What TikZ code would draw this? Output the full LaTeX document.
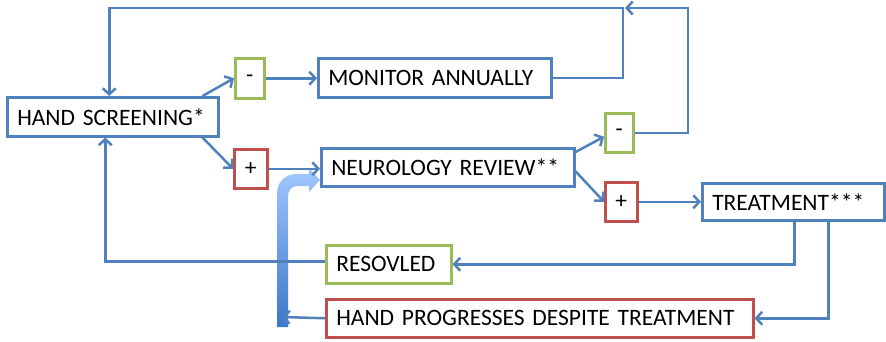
\documentclass[tikz,border=0pt]{standalone}
\usepackage{fontspec}
\setmainfont{Carlito}
\usetikzlibrary{arrows.meta,calc}
\definecolor{obl}{HTML}{4F81BD}
\definecolor{ogr}{HTML}{9BBB59}
\definecolor{ord}{HTML}{C0504D}
\definecolor{shtop}{HTML}{A2C7FF}
\definecolor{shbot}{HTML}{3A78C9}
\tikzset{
  bbox/.style={draw=obl, line width=2.5pt, fill=white, anchor=north west, inner xsep=10pt, inner ysep=0pt, align=left, font=\fontsize{23.5}{28}\selectfont},
  gbox/.style={bbox, draw=ogr},
  rbox/.style={bbox, draw=ord},
  sgn/.style={anchor=north west, line width=2.5pt, fill=white, inner sep=0pt, align=center, font=\fontsize{23.5}{28}\selectfont},
  conn/.style={draw=obl, line width=2.5pt, -{Straight Barb[length=6pt,width=13pt,line width=2.5pt]}},
}
\begin{document}
\begin{tikzpicture}[x=1pt,y=-1pt]
\useasboundingbox (0,0) rectangle (886,341);

% big bent block arrow
\path[top color=shtop, bottom color=shbot]
  (277,327) -- (277,194) .. controls (277,182) and (285,174) .. (297,174)
  -- (309,174) -- (309,168) -- (320,180) -- (309,192) -- (309,186)
  -- (298,186) .. controls (292,186) and (288,190) .. (288,196)
  -- (288,327) -- cycle;

% boxes
\node[bbox, text width=191pt, minimum height=39pt] (hs) at (6,96) {HAND SCREENING*};
\node[sgn, draw=ogr, minimum width=29pt, minimum height=40pt] (m1) at (234,57) {-};
\node[bbox, text width=213pt, minimum height=39pt] (mon) at (317,57) {MONITOR ANNUALLY};
\node[sgn, draw=ord, minimum width=33pt, minimum height=39pt] (p1) at (233,148) {+};
\node[bbox, text width=233pt, minimum height=38pt] (neu) at (320,147) {NEUROLOGY REVIEW**};
\node[sgn, draw=ogr, minimum width=28pt, minimum height=39pt] (m2) at (604,112) {-};
\node[sgn, draw=ord, minimum width=32pt, minimum height=39pt] (p2) at (604,181) {+};
\node[bbox, text width=162pt, minimum height=37pt] (tr) at (701,182) {TREATMENT***};
\node[gbox, text width=105pt, minimum height=38pt] (res) at (325,244) {RESOVLED};
\node[rbox, text width=407pt, minimum height=38pt] (hp) at (325,298) {HAND PROGRESSES DESPITE TREATMENT};

% free-end coordinates
\coordinate (topR) at (688,8);
\coordinate (mj) at (623,8);
\coordinate (ba) at (282,317);

% connectors
\draw[conn] ([xshift=-17pt]hs.north east) -- (m1.west);
\draw[conn] ([xshift=-17pt]hs.south east) -- (p1.west);
\draw[conn] (m1.east) -- (m1.east -| mon.west);
\draw[conn] (p1.east) -- (p1.east -| neu.west);
\draw[conn] ([yshift=-5pt]neu.north east) -- ([yshift=-4pt]m2.west);
\draw[conn] ([yshift=-4pt]neu.east) -- (p2.west);
\draw[conn] (p2.east) -- (p2.east -| tr.west);
\draw[conn] (mon.east) -| (mj) -| ([xshift=-3.5pt]hs.north);
\draw[conn] (m2.east) -| (topR) -- ([xshift=2pt]mj);
\draw[conn] ([xshift=1pt]tr.south) |- (res.east);
\draw[conn] ([xshift=35pt]tr.south) |- (hp.east);
\draw[conn] ([yshift=3pt]res.west) -| ([xshift=-7.5pt]hs.south);
\draw[conn] (hp.west) -- (ba);
\end{tikzpicture}
\end{document}
